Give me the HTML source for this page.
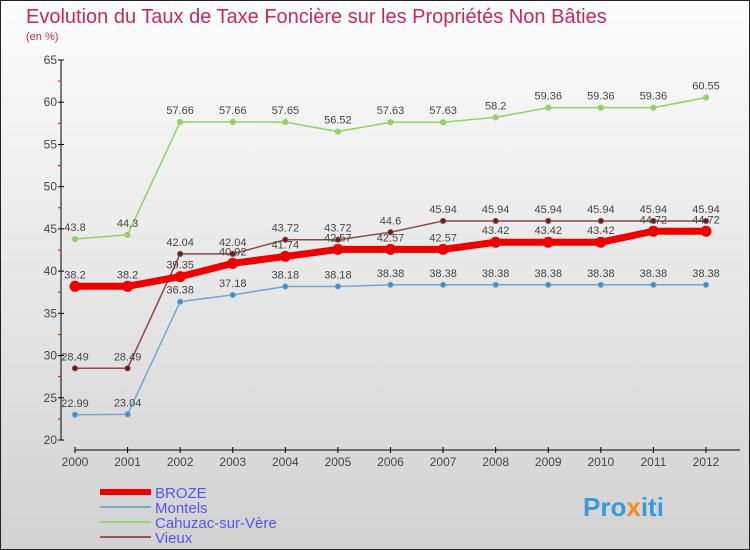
<!DOCTYPE html>
<html><head><meta charset="utf-8"><style>
body{margin:0}
svg{display:block;font-family:"Liberation Sans",sans-serif}
</style></head><body>
<svg id="c" width="750" height="550" viewBox="0 0 750 550">
<defs><linearGradient id="bg" x1="0" y1="0" x2="0" y2="1"><stop offset="0" stop-color="#fdfdfd"/><stop offset="1" stop-color="#d2d2d2"/></linearGradient></defs>
<rect x="0.5" y="0.5" width="749" height="549" fill="url(#bg)" stroke="#222"/>
<text x="26" y="23" font-size="20" fill="#c8285a">Evolution du Taux de Taxe Foncière sur les Propriétés Non Bâties</text>
<text x="26" y="40" font-size="11" fill="#c8285a">(en %)</text>
<g id="axes"></g><g id="series"></g><g id="legend"></g>
<text x="583" y="516" font-size="26" font-weight="bold" fill="#3a9ad8">Pro<tspan fill="#f28c1e">x</tspan>iti</text>
</svg>
<script>
const years=[2000,2001,2002,2003,2004,2005,2006,2007,2008,2009,2010,2011,2012];
const broze=[38.2,38.2,39.35,40.92,41.74,42.57,42.57,42.57,43.42,43.42,43.42,44.72,44.72];
const montels=[22.99,23.04,36.38,37.18,38.18,38.18,38.38,38.38,38.38,38.38,38.38,38.38,38.38];
const cahuzac=[43.8,44.3,57.66,57.66,57.65,56.52,57.63,57.63,58.2,59.36,59.36,59.36,60.55];
const vieux=[28.49,28.49,42.04,42.04,43.72,43.72,44.6,45.94,45.94,45.94,45.94,45.94,45.94];
const yTicks=[20,25,30,35,40,45,50,55,60,65];
const NS="http://www.w3.org/2000/svg";
const X=i=>75+i*(706-75)/(years.length-1);
const Y=v=>440-(v-20)*380/45;
function mk(t,a,p){const e=document.createElementNS(NS,t);for(const k in a)e.setAttribute(k,a[k]);p.appendChild(e);return e;}
const ax=document.getElementById('axes');
let l=mk('line',{x1:61,y1:60,x2:61,y2:440,stroke:'#000'},ax);


l=mk('line',{x1:75,y1:450,x2:740,y2:450,stroke:'#000'},ax);


yTicks.forEach((v,i)=>{
 mk('line',{x1:58,y1:Y(v),x2:64,y2:Y(v),stroke:'#000'},ax);
 if(i<yTicks.length-1) mk('line',{x1:58,y1:Y(v+2.5),x2:61,y2:Y(v+2.5),stroke:'#e00'},ax);
 const t=mk('text',{x:57,y:Y(v)+4,'font-size':12,fill:'#444','text-anchor':'end'},ax);
 t.textContent=v;
 
 
});
years.forEach((yr,i)=>{
 mk('line',{x1:X(i),y1:447,x2:X(i),y2:453,stroke:'#000'},ax);
 const t=mk('text',{x:X(i),y:466,'font-size':12,fill:'#444','text-anchor':'middle'},ax);
 t.textContent=yr;
 
 
});
const sg=document.getElementById('series');
function draw(vals,name,color,w,r,dot){
 const g=mk('g',{},sg);
 
 
 const p=mk('polyline',{points:vals.map((v,i)=>X(i)+','+Y(v)).join(' '),fill:'none',stroke:color,'stroke-width':w,'stroke-linejoin':'round'},g);
 
 
 vals.forEach((v,i)=>{
  const c=mk('circle',{cx:X(i),cy:Y(v),r:r,fill:dot,stroke:color,'stroke-width':1},g);
  
  
  const t=mk('text',{x:X(i),y:Y(v)-8,'font-size':11,fill:'#444','text-anchor':'middle'},g);
  t.textContent=v;
  
  
 });
}
draw(cahuzac,'cahuzac','#8fd16a',1.5,2.6,'#8fd16a');
draw(vieux,'vieux','#8a4a4a',1.5,2.6,'#6b1a1a');
draw(montels,'montels','#6fa7cf',1.5,2.6,'#3a8ccc');
draw(broze,'broze','#ee0000',7,5,'#ee0000');
const lg=document.getElementById('legend');
const items=[['BROZE','#ee0000',6],['Montels','#7aa9c9',2],['Cahuzac-sur-Vère','#9bd27a',2],['Vieux','#8a5a5a',2]];
items.forEach((it,i)=>{
 const y=492+i*15;
 const ln=mk('line',{x1:100,y1:y,x2:151,y2:y,stroke:it[1],'stroke-width':it[2]},lg);
 
 
 const t=mk('text',{x:155,y:y+6,'font-size':15,fill:'#5555ee'},lg);
 t.textContent=it[0];
 
 
});
</script>
</body></html>
